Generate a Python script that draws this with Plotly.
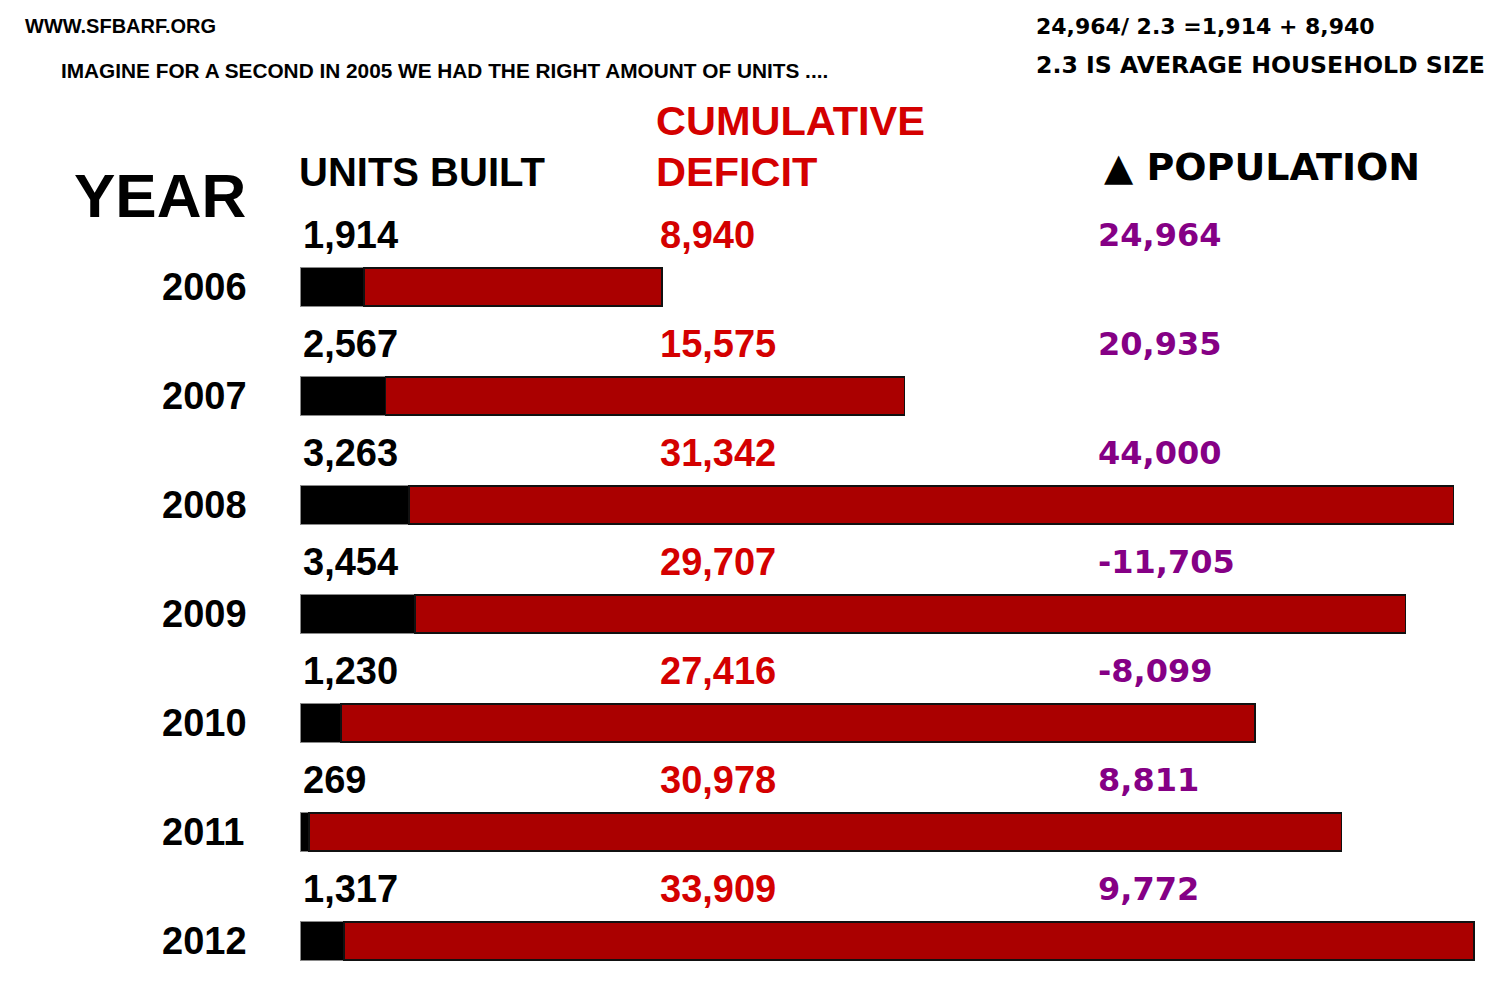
import plotly.graph_objects as go

years = ["2006", "2007", "2008", "2009", "2010", "2011", "2012"]
units_built = [1914, 2567, 3263, 3454, 1230, 269, 1317]
cumulative_deficit = [8940, 15575, 31342, 29707, 27416, 30978, 33909]
population_change = ["24,964", "20,935", "44,000", "-11,705", "-8,099", "8,811", "9,772"]

W, H = 1500, 1000
RED_TEXT = "#d40000"
RED_BAR = "#aa0000"
PURPLE = "#850085"
BOLD = "Liberation Sans, Arial, sans-serif"
WIDE = "DejaVu Sans, sans-serif"

rows = list(range(len(years)))


def px(x):
    return x / W


def py(y):
    return 1 - y / H


fig = go.Figure()
fig.add_trace(go.Bar(
    y=rows, x=units_built, orientation="h", name="Units built",
    marker=dict(color="#000000", line=dict(color="#8a8a8a", width=1)),
    customdata=years, hovertemplate="%{customdata}: %{x:,}<extra>Units built</extra>",
))
fig.add_trace(go.Bar(
    y=rows, x=cumulative_deficit, orientation="h", name="Cumulative deficit",
    marker=dict(color=RED_BAR, line=dict(color="#111111", width=1.5)),
    customdata=years, hovertemplate="%{customdata}: %{x:,}<extra>Cumulative deficit</extra>",
))

ann = []


def text(x, y, s, size, color="#000", family=BOLD, xanchor="left"):
    ann.append(dict(x=px(x), y=py(y), xref="paper", yref="paper", text=s,
                    showarrow=False, xanchor=xanchor, yanchor="middle",
                    font=dict(size=size, color=color, family=family, weight="bold")))


# headers
text(23, 26, "WWW.SFBARF.ORG", 20)
text(59, 70, "IMAGINE FOR A SECOND IN 2005 WE HAD THE RIGHT AMOUNT OF UNITS ....", 20.8)
text(1034, 26, "24,964/ 2.3 =1,914 + 8,940", 22, family=WIDE)
text(1034, 65, "2.3 IS AVERAGE HOUSEHOLD SIZE", 23.6, family=WIDE)
text(72, 196, "YEAR", 62)
text(297, 172, "UNITS BUILT", 40)
text(654, 120, "CUMULATIVE", 41.5, color=RED_TEXT)
text(654, 171, "DEFICIT", 41.5, color=RED_TEXT)
text(1102, 167, "▲ POPULATION", 38, family=WIDE)

SHIFT = 52
for i, yr in enumerate(years):
    ann.append(dict(x=px(160), xref="paper", y=rows[i], yref="y", text=yr, showarrow=False,
                    xanchor="left", yanchor="middle",
                    font=dict(size=38, color="#000", family=BOLD, weight="bold")))
    ann.append(dict(x=0, xref="x", y=rows[i], yref="y", text=f"{units_built[i]:,}",
                    showarrow=False, xanchor="left", yanchor="middle", xshift=1,
                    yshift=SHIFT,
                    font=dict(size=38, color="#000", family=BOLD, weight="bold")))
    ann.append(dict(x=px(658), xref="paper", y=rows[i], yref="y",
                    text=f"{cumulative_deficit[i]:,}",
                    showarrow=False, xanchor="left", yanchor="middle", yshift=SHIFT,
                    font=dict(size=38, color=RED_TEXT, family=BOLD, weight="bold")))
    ann.append(dict(x=px(1096), xref="paper", y=rows[i], yref="y", text=population_change[i],
                    showarrow=False, xanchor="left", yanchor="middle", yshift=SHIFT,
                    font=dict(size=32, color=PURPLE, family=WIDE, weight="bold")))

fig.update_layout(
    width=W, height=H,
    margin=dict(l=0, r=0, t=0, b=0),
    paper_bgcolor="white", plot_bgcolor="white",
    barmode="stack", bargap=0.65, showlegend=False,
    xaxis=dict(domain=[px(300), 1], range=[0, 36000], visible=False, fixedrange=True),
    yaxis=dict(domain=[py(995.5), py(232.5)], range=[len(years) - 0.5, -0.5],
               visible=False, fixedrange=True),
    annotations=ann,
)

fig.write_html("out.html")
